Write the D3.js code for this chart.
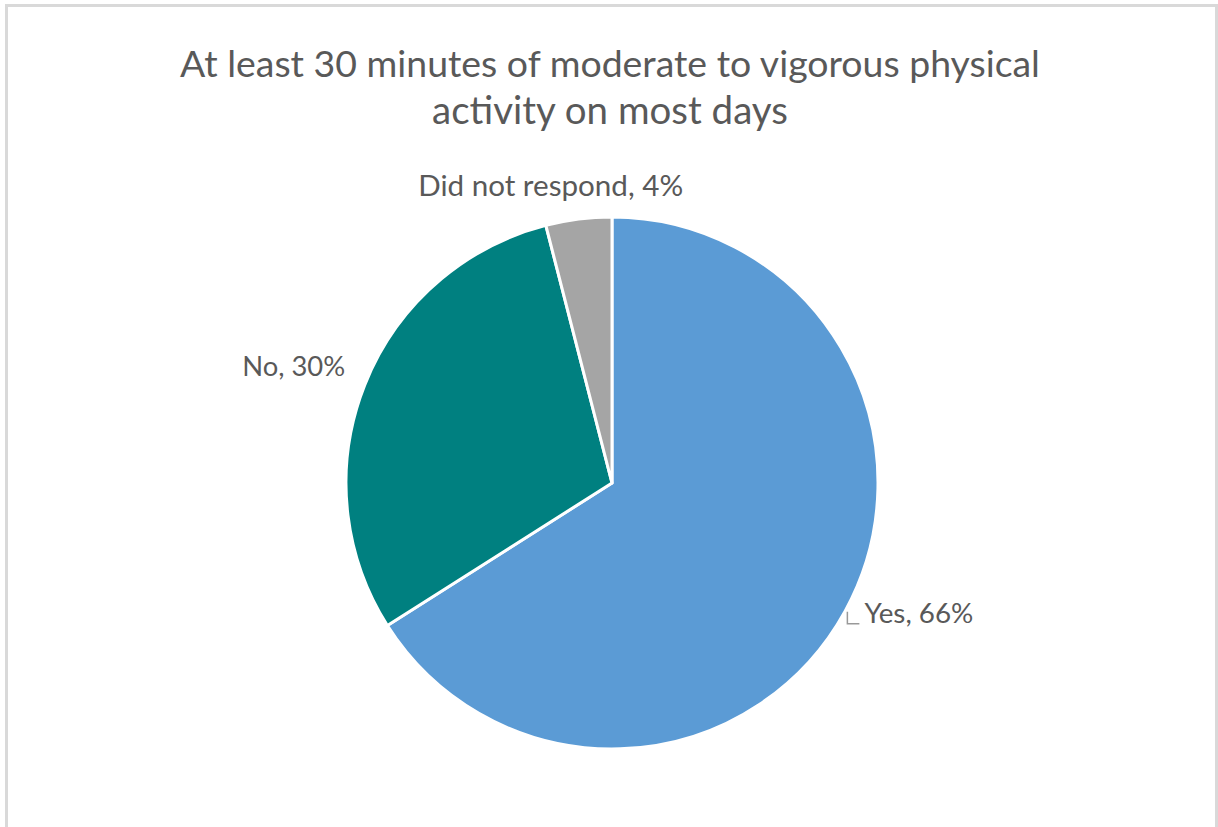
<!DOCTYPE html>
<html>
<head>
<meta charset="utf-8">
<script src="https://cdn.jsdelivr.net/npm/d3@7"></script>
<style>
  body { margin: 0; background: #fff; }
  text { font-family: Lato, "Open Sans", sans-serif; fill: #595959; }
</style>
</head>
<body>
<script>
// data
var titleLines = ["At least 30 minutes of moderate to vigorous physical", "activity on most days"]
var categories = ["Yes", "No", "Did not respond"]
var values = [66, 30, 4]
var colors = ["#5b9bd5", "#008080", "#a5a5a5"]

var width = 1218, height = 827
var cx = 612, cy = 483, radius = 266

var svg = d3.select("body").append("svg")
    .attr("width", width)
    .attr("height", height)

// chart area border
svg.append("rect")
    .attr("x", 6.5).attr("y", 5.5)
    .attr("width", 1210).attr("height", 840)
    .attr("fill", "none")
    .attr("stroke", "#d9d9d9")
    .attr("stroke-width", 3)

// fit a text element to a target width by changing its font size
function fitWidth(sel, target) {
    var fs = 20
    sel.style("font-size", fs + "px")
    var w = sel.node().getComputedTextLength()
    sel.style("font-size", (fs * target / w) + "px")
}

// title
var titleWidths = [860, 356]
var titleBase = [77, 124]
titleLines.forEach(function (t, i) {
    var el = svg.append("text")
        .attr("x", 610)
        .attr("y", titleBase[i])
        .attr("text-anchor", "middle")
        .text(t)
    fitWidth(el, titleWidths[i])
})

var data = categories.map(function (c, i) {
    return { name: c, value: values[i], color: colors[i] }
})

var pie = d3.pie()
    .sort(null)
    .value(function (d) { return d.value })

var arc = d3.arc()
    .innerRadius(0)
    .outerRadius(radius)

var arcs = pie(data)

var g = svg.append("g")
    .attr("transform", "translate(" + cx + "," + cy + ")")

g.selectAll("path")
    .data(arcs)
    .enter().append("path")
    .attr("d", arc)
    .attr("fill", function (d) { return d.data.color })
    .attr("stroke", "#fff")
    .attr("stroke-width", 3)
    .attr("stroke-linejoin", "round")

// labels, placed outside the pie along the slice mid angle
var labelWidths = { "Yes": 109, "No": 103, "Did not respond": 265 }
arcs.forEach(function (d) {
    var mid = (d.startAngle + d.endAngle) / 2
    var sx = Math.sin(mid), sy = -Math.cos(mid)
    var r, anchor, dx = 0, dy = 0
    if (Math.abs(sx) < 0.3) {
        r = 298; anchor = "middle"; dx = -24; dy = 9
    } else if (sx > 0) {
        r = 288; anchor = "start"; dx = 0; dy = 1
    } else {
        r = 287; anchor = "end"; dx = 0; dy = -1
    }
    var x = cx + r * sx + dx
    var y = cy + r * sy + dy
    var el = svg.append("text")
        .attr("x", x)
        .attr("y", y)
        .attr("text-anchor", anchor)
        .text(d.data.name + ", " + d.data.value + "%")
    fitWidth(el, labelWidths[d.data.name])

    // short leader for the label sitting close to its slice
    if (sx > 0) {
        svg.append("path")
            .attr("d", "M" + (x - 17) + "," + (y - 11) + "V" + (y + 1) + "H" + (x - 5))
            .attr("fill", "none")
            .attr("stroke", "#999999")
            .attr("stroke-width", 1.5)
    }
})
</script>
</body>
</html>
